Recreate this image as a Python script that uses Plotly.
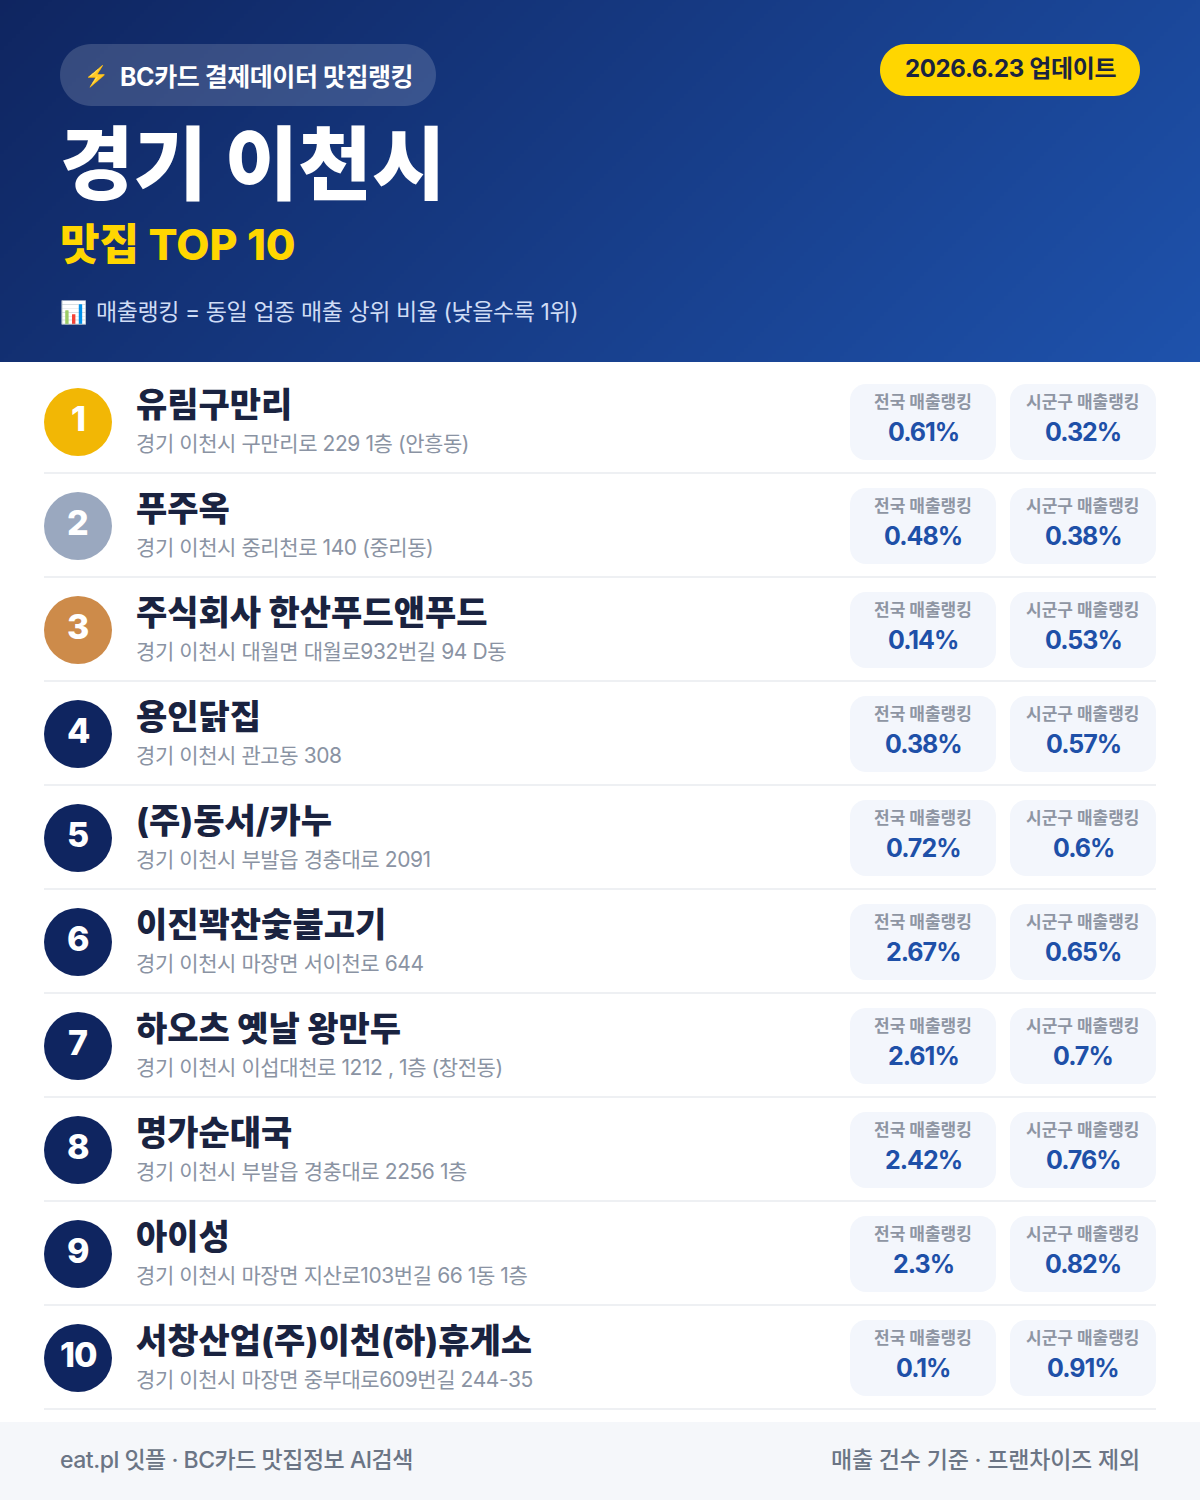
"""BC card restaurant ranking card for Icheon, drawn with Plotly."""
import numpy as np
import plotly.graph_objects as go

FONT = "Inter, Noto Sans CJK KR"

ranks = [1, 2, 3, 4, 5, 6, 7, 8, 9, 10]
names = [
    "유림구만리", "푸주옥", "주식회사 한산푸드앤푸드", "용인닭집", "(주)동서/카누",
    "이진꽉찬숯불고기", "하오츠 옛날 왕만두", "명가순대국", "아이성", "서창산업(주)이천(하)휴게소",
]
addresses = [
    "경기 이천시 구만리로 229 1층 (안흥동)",
    "경기 이천시 중리천로 140 (중리동)",
    "경기 이천시 대월면 대월로932번길 94 D동",
    "경기 이천시 관고동 308",
    "경기 이천시 부발읍 경충대로 2091",
    "경기 이천시 마장면 서이천로 644",
    "경기 이천시 이섭대천로 1212 , 1층 (창전동)",
    "경기 이천시 부발읍 경충대로 2256 1층",
    "경기 이천시 마장면 지산로103번길 66 1동 1층",
    "경기 이천시 마장면 중부대로609번길 244-35",
]
national_rank = ["0.61%", "0.48%", "0.14%", "0.38%", "0.72%", "2.67%", "2.61%", "2.42%", "2.3%", "0.1%"]
district_rank = ["0.32%", "0.38%", "0.53%", "0.57%", "0.6%", "0.65%", "0.7%", "0.76%", "0.82%", "0.91%"]
medal_colors = ["#f2b705", "#9aa8bf", "#cd8b4a"]
NAVY = "#0f2560"
ROW_H = 104


def rounded(x0, y0, x1, y1, r):
    k = r * 0.45
    return (
        f"M{x0 + r},{y0} L{x1 - r},{y0} C{x1 - k},{y0} {x1},{y0 + k} {x1},{y0 + r} "
        f"L{x1},{y1 - r} C{x1},{y1 - k} {x1 - k},{y1} {x1 - r},{y1} "
        f"L{x0 + r},{y1} C{x0 + k},{y1} {x0},{y1 - k} {x0},{y1 - r} "
        f"L{x0},{y0 + r} C{x0},{y0 + k} {x0 + k},{y0} {x0 + r},{y0} Z"
    )


def label(fig, x, y, text, size, color, weight=400, anchor="left", spacing=0):
    if spacing:
        text = f'<span style="letter-spacing:{spacing}px">{text}</span>'
    fig.add_annotation(
        x=x, y=y, text=text, showarrow=False, xanchor=anchor, yanchor="middle",
        xref="x", yref="y", borderpad=0, borderwidth=0,
        font=dict(family=FONT, size=size, color=color, weight=weight),
    )


def box(fig, x0, y0, x1, y1, r, color):
    fig.add_shape(type="path", path=rounded(x0, y0, x1, y1, r), fillcolor=color, line_width=0, xref="x", yref="y")


fig = go.Figure()

# header gradient, 135deg across the 1200x362 block
grad_x = np.arange(2, 1200, 4)
grad_y = np.arange(1, 362, 2)
fig.add_trace(go.Heatmap(
    x=grad_x, y=grad_y, z=(grad_x[None, :] + grad_y[:, None]) / 1562,
    zmin=0, zmax=1, showscale=False, hoverinfo="skip",
    colorscale=[[0, "#0f2560"], [1, "#1e52ac"]],
))

box(fig, 60, 44, 436, 106, 31, "rgba(255,255,255,0.16)")
box(fig, 880, 44, 1140, 96, 26, "#ffd600")
label(fig, 84, 76, "⚡", 20, "#ffd600")
label(fig, 120, 77, "BC카드 결제데이터 맛집랭킹", 25, "#ffffff", 700, spacing=-0.45)
label(fig, 1010, 68, "2026.6.23 업데이트", 24, "#1a2340", 700, "center", spacing=-0.35)
label(fig, 60, 163, "경기 이천시", 80, "#ffffff", 800)
label(fig, 60, 244, "맛집 TOP 10", 43, "#ffd600", 800)
label(fig, 60, 312, "📊", 22, "#ffffff")
label(fig, 96, 312, "매출랭킹 = 동일 업종 매출 상위 비율 (낮을수록 1위)", 23, "#cfdcf5", spacing=-0.42)

for i, rank in enumerate(ranks):
    dy = ROW_H * i
    color = medal_colors[i] if i < len(medal_colors) else NAVY
    fig.add_shape(type="circle", x0=44, x1=112, y0=388 + dy, y1=456 + dy, fillcolor=color, line_width=0)
    label(fig, 78, 418 + dy, str(rank), 34, "#ffffff", 800, "center", spacing=-1 if rank == 10 else 0)
    label(fig, 136, 404 + dy, names[i], 34, "#1a2340", 800)
    label(fig, 136, 443 + dy, addresses[i], 21, "#8a93a3", spacing=-0.42)
    box(fig, 850, 384 + dy, 996, 460 + dy, 16, "#f3f6fc")
    box(fig, 1010, 384 + dy, 1156, 460 + dy, 16, "#f3f6fc")
    label(fig, 923, 402 + dy, "전국 매출랭킹", 17, "#8e95a3", 700, "center")
    label(fig, 1083, 402 + dy, "시군구 매출랭킹", 17, "#8e95a3", 700, "center")
    label(fig, 923, 432 + dy, national_rank[i], 25, "#1e50a8", 700, "center", spacing=-1)
    label(fig, 1083, 432 + dy, district_rank[i], 25, "#1e50a8", 700, "center", spacing=-1)
    fig.add_shape(type="line", x0=44, x1=1156, y0=473 + dy, y1=473 + dy, line=dict(color="#eef0f3", width=2))

fig.add_shape(type="rect", x0=0, x1=1200, y0=1422, y1=1500, fillcolor="#f5f7fa", line_width=0)
label(fig, 60, 1460, "eat.pl 잇플 · BC카드 맛집정보 AI검색", 23, "#6b7585", 500, spacing=-0.48)
label(fig, 1140, 1460, "매출 건수 기준 · 프랜차이즈 제외", 23, "#6b7585", 500, "right", spacing=-0.2)

fig.update_layout(
    width=1200, height=1500, margin=dict(l=0, r=0, t=0, b=0),
    paper_bgcolor="#ffffff", plot_bgcolor="#ffffff", showlegend=False,
    xaxis=dict(range=[0, 1200], visible=False, fixedrange=True),
    yaxis=dict(range=[1500, 0], visible=False, fixedrange=True),
)
fig.write_html("out.html", config={"displayModeBar": False},
               post_script="document.body.style.margin='0';")
